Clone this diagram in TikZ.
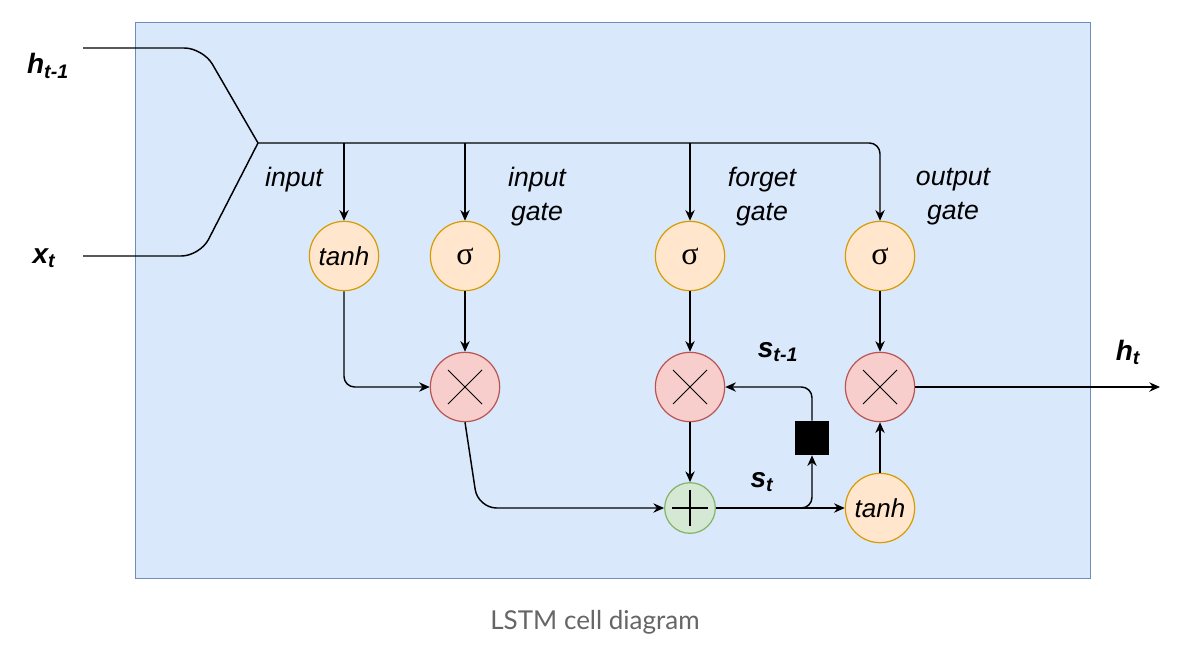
\documentclass[tikz,border=0pt]{standalone}
\usepackage{fontspec}
\setmainfont{Liberation Sans}
\newfontfamily\capfont{Lato}
\newfontfamily\sigfont{Liberation Serif}
\usetikzlibrary{arrows.meta}
\definecolor{bgfill}{HTML}{DAE8FC}
\definecolor{bgdraw}{HTML}{6C8EBF}
\definecolor{orfill}{HTML}{FFE6CC}
\definecolor{ordraw}{HTML}{D79B00}
\definecolor{rdfill}{HTML}{F8CECC}
\definecolor{rddraw}{HTML}{B85450}
\definecolor{grfill}{HTML}{D5E8D4}
\definecolor{grdraw}{HTML}{82B366}
\definecolor{capgray}{HTML}{666666}
\tikzset{
  orc/.style={circle,draw=ordraw,fill=orfill,line width=0.9pt,minimum size=52pt,inner sep=0pt},
  mulc/.style={circle,draw=rddraw,fill=rdfill,line width=0.9pt,minimum size=52pt,inner sep=0pt},
  addc/.style={circle,draw=grdraw,fill=grfill,line width=0.9pt,minimum size=38pt,inner sep=0pt},
  wire/.style={draw=black,line width=1.1pt},
  arr/.style={wire,-{Stealth[length=8pt,width=7pt]}},
  lbl/.style={font=\fontsize{20}{25.5}\selectfont\itshape,align=center},
  var/.style={font=\fontsize{21}{24}\selectfont\bfseries\itshape},
  fn/.style={font=\fontsize{19.5}{22}\selectfont\itshape},
  sig/.style={font=\fontsize{24}{24}\sigfont},
}
\begin{document}
\begin{tikzpicture}[x=0.75pt,y=-0.75pt]
\useasboundingbox (0,0) rectangle (1194,650);
\draw[fill=white,draw=none] (0,0) rectangle (1194,650);
\node[draw=bgdraw,fill=bgfill,line width=0.8pt,minimum width=716.25pt,minimum height=417pt,inner sep=0pt,anchor=north west] (cell) at (135,22) {};
% inputs
\node[var] (h1) at (48,66) {h\textsubscript{t-1}};
\node[var] (xt) at (44,258) {x\textsubscript{t}};
\coordinate (hs) at (83,48);
\coordinate (xs) at (83,256);
\coordinate (j) at (258,143);
% nodes
\node[orc,fn] (tanh1) at (344,256) {tanh};
\node[orc,sig] (sg1) at (465,256) {σ};
\node[orc,sig] (sg2) at (690,256) {σ};
\node[orc,sig] (sg3) at (880,256) {σ};
\node[mulc] (m1) at (465,387) {};
\node[mulc] (m2) at (690,387) {};
\node[mulc] (m3) at (880,387) {};
\node[addc] (add) at (690,508) {};
\node[orc,fn] (tanh2) at (880,508) {tanh};
\node[fill=black,minimum size=25.5pt,inner sep=0pt] (sq) at (812,438) {};
% symbols
\foreach \m in {m1,m2,m3}{
  \draw[line width=0.7pt] ([shift={(-17,-17)}]\m.center) -- ([shift={(17,17)}]\m.center);
  \draw[line width=0.7pt] ([shift={(-17,17)}]\m.center) -- ([shift={(17,-17)}]\m.center);
}
\draw[line width=0.9pt] ([shift={(-18,0)}]add.center) -- ([shift={(18,0)}]add.center);
\draw[line width=0.9pt] ([shift={(0,-18)}]add.center) -- ([shift={(0,18)}]add.center);
% input wires
\draw[wire,rounded corners=14pt] (hs) -- (203,48) -- (j);
\draw[wire,rounded corners=14pt] (xs) -- (200,256) -- (j);
\draw[arr,rounded corners=8pt] (j) -- (880,143) -- (sg3.north);
\draw[arr] (344,143) -- (tanh1.north);
\draw[arr] (465,143) -- (sg1.north);
\draw[arr] (690,143) -- (sg2.north);
% internal
\draw[arr,rounded corners=8pt] (tanh1.south) -- (344,387) -- (m1.west);
\draw[arr] (sg1) -- (m1);
\draw[arr] (sg2) -- (m2);
\draw[arr] (sg3) -- (m3);
\draw[arr] (m2) -- (add);
\draw[arr,rounded corners=14pt] (m1.south) -- (478,508) -- (add.west);
\draw[arr] (add.east) -- (tanh2.west);
\draw[arr,rounded corners=8pt] (790,508) -- (812,508) -- (sq.south);
\draw[arr,rounded corners=8pt] (sq.north) -- (812,387) -- (m2.east);
\draw[arr] (tanh2) -- (m3);
\coordinate (out) at (1160,387);
\draw[arr] (m3.east) -- (out);
% labels
\node[lbl] (l1) at (294,180) {input};
\node[lbl] (l2) at (537,197) {input\\gate};
\node[lbl] (l3) at (762,197) {forget\\gate};
\node[lbl] (l4) at (953,197) {output\\gate};
\node[var] (st1) at (778,352) {s\textsubscript{t-1}};
\node[var] (st) at (762,482) {s\textsubscript{t}};
\node[var] (ht) at (1128,352) {h\textsubscript{t}};
\node[font=\fontsize{19.5}{22}\capfont,text=capgray] (cap) at (595,622) {LSTM cell diagram};
\end{tikzpicture}
\end{document}
